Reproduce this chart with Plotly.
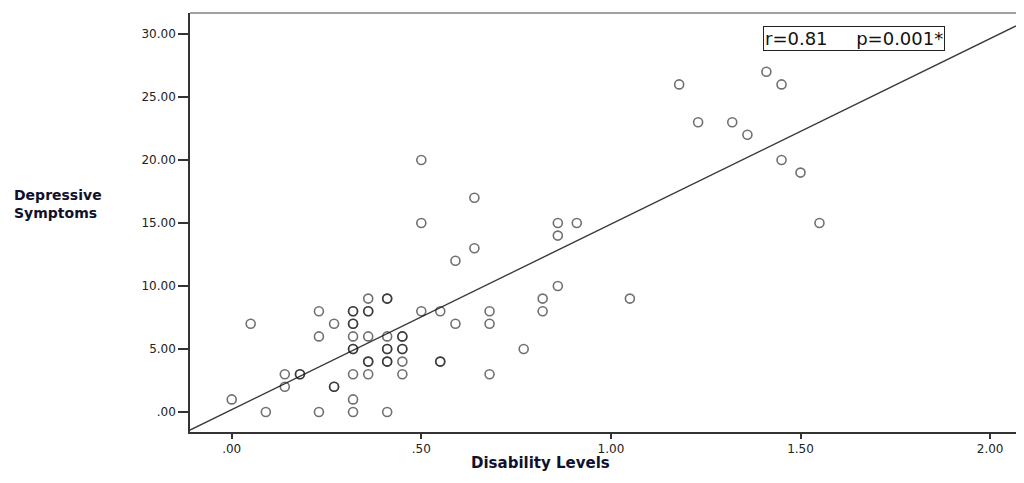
import plotly.graph_objects as go

# Disability level (x) and depressive symptom score (y) per respondent
disability = [
    0.00, 0.05, 0.09,
    0.14, 0.14,
    0.18, 0.18,
    0.23, 0.23, 0.23,
    0.27, 0.27, 0.27,
    0.32, 0.32, 0.32, 0.32, 0.32, 0.32, 0.32, 0.32, 0.32, 0.32,
    0.36, 0.36, 0.36, 0.36, 0.36, 0.36, 0.36,
    0.41, 0.41, 0.41, 0.41, 0.41, 0.41, 0.41, 0.41,
    0.45, 0.45, 0.45, 0.45, 0.45, 0.45,
    0.50, 0.50, 0.50,
    0.55, 0.55, 0.55,
    0.59, 0.59,
    0.64, 0.64,
    0.68, 0.68, 0.68,
    0.77,
    0.82, 0.82,
    0.86, 0.86, 0.86,
    0.91,
    1.05,
    1.18, 1.23, 1.32, 1.36, 1.41,
    1.45, 1.45,
    1.50, 1.55,
]
depressive = [
    1, 7, 0,
    3, 2,
    3, 3,
    8, 6, 0,
    7, 2, 2,
    8, 8, 7, 7, 6, 5, 5, 3, 1, 0,
    9, 8, 8, 6, 4, 4, 3,
    9, 9, 6, 5, 5, 4, 4, 0,
    6, 6, 5, 5, 4, 3,
    20, 15, 8,
    8, 4, 4,
    12, 7,
    17, 13,
    8, 7, 3,
    5,
    9, 8,
    15, 14, 10,
    15,
    9,
    26, 23, 23, 22, 27,
    26, 20,
    19, 15,
]

x_ticks = [0.0, 0.5, 1.0, 1.5, 2.0]
x_ticklabels = [".00", ".50", "1.00", "1.50", "2.00"]
y_ticks = [0, 5, 10, 15, 20, 25, 30]
y_ticklabels = [".00", "5.00", "10.00", "15.00", "20.00", "25.00", "30.00"]

stats_text = "r=0.81\u00a0\u00a0\u00a0\u00a0\u00a0p=0.001*"

# Fit line as drawn in the reference
fit_slope = 14.72
fit_intercept = 0.19

x_range = [-0.110, 2.0683]
y_range = [-1.587, 31.667]

fit_x = x_range
fit_y = [fit_intercept + fit_slope * v for v in fit_x]

# page body has an 8px margin on each side; keep figure inside the window
OFF = 8
W, H = 1024 - 2 * OFF, 483 - 2 * OFF
L, R, T = 190 - OFF, 0, 13 - OFF
B = (H + OFF) - 432
pw, ph = W - L - R, H - T - B

def px_to_paper(px, py):
    return (px - OFF - L) / pw, (H - B - (py - OFF)) / ph

fig = go.Figure()
fig.add_trace(go.Scatter(
    x=fit_x, y=fit_y, mode="lines",
    line=dict(color="#3a3a3a", width=1.4),
    hoverinfo="skip", showlegend=False,
))
fig.add_trace(go.Scatter(
    x=disability, y=depressive, mode="markers",
    marker=dict(symbol="circle-open", size=9, color="rgba(25,25,25,0.62)",
                line=dict(color="rgba(25,25,25,0.62)", width=1.6)),
    showlegend=False,
))

title_font = dict(family="DejaVu Sans", size=14, color="#11112b")
ax, ay = px_to_paper(12, 185)
tx, ty = px_to_paper(540, 452)
sx, sy = px_to_paper(854, 38.5)

fig.update_layout(
    width=W, height=H,
    margin=dict(l=L, r=R, t=T, b=B, pad=0),
    paper_bgcolor="white", plot_bgcolor="white",
    xaxis=dict(
        range=x_range, tickvals=x_ticks, ticktext=x_ticklabels,
        showgrid=False, zeroline=False,
        showline=True, linecolor="#333333", linewidth=1.5,
        ticks="outside", ticklen=5, tickwidth=1.5, tickcolor="#333333",
        tickfont=dict(family="DejaVu Sans", size=12, color="#222222"),
    ),
    yaxis=dict(
        range=y_range, tickvals=y_ticks, ticktext=y_ticklabels,
        showgrid=False, zeroline=False,
        showline=True, linecolor="#333333", linewidth=1.5,
        ticks="outside", ticklen=10, tickwidth=1.5, tickcolor="#333333",
        tickfont=dict(family="DejaVu Sans", size=12, color="#222222"),
    ),
    shapes=[dict(type="line", xref="paper", yref="paper",
                 x0=0, x1=1, y0=1, y1=1,
                 line=dict(color="#808080", width=1.5))],
    annotations=[
        dict(text="<b>Depressive<br>Symptoms</b>", xref="paper", yref="paper",
             x=ax, y=ay, xanchor="left", yanchor="top", align="left",
             showarrow=False, font=title_font),
        dict(text="<b>Disability Levels</b>", xref="paper", yref="paper",
             x=tx, y=ty, xanchor="center", yanchor="top",
             showarrow=False,
             font=dict(family="DejaVu Sans", size=15, color="#11112b")),
        dict(text=stats_text, xref="paper", yref="paper",
             x=sx, y=sy, xanchor="center", yanchor="middle",
             showarrow=False, bordercolor="#222222", borderwidth=1,
             borderpad=1, bgcolor="white",
             font=dict(family="DejaVu Sans", size=18, color="#111111")),
    ],
)

fig.write_html("out.html")
